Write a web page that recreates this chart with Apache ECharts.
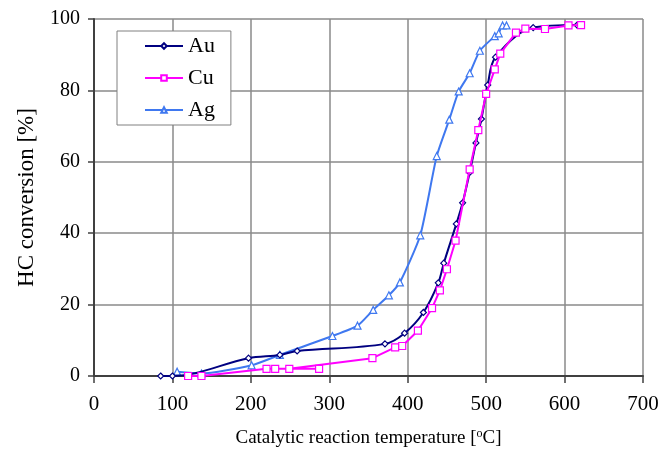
<!DOCTYPE html>
<html>
<head>
<meta charset="utf-8">
<script src="https://cdn.jsdelivr.net/npm/echarts@6/dist/echarts.min.js"></script>
<style>
  html, body { margin: 0; padding: 0; background: #fff; }
  #chart { width: 664px; height: 453px; }
</style>
</head>
<body>
<div id="chart"></div>
<script>
// Temperature [°C] / HC conversion [%] pairs for each catalyst
const auTemp = [85, 100, 197, 237, 259, 371, 396, 420, 439, 446, 462, 470, 479, 487, 494, 502, 512, 560, 616];
const auConv = [0, 0, 5.0, 5.9, 7.0, 9.0, 12.0, 17.8, 26.1, 31.6, 42.6, 48.5, 57.0, 65.3, 72.0, 81.5, 89.3, 97.6, 98.3];

const cuTemp = [120, 137, 220, 231, 287, 249, 355, 384, 393, 413, 431, 441, 450, 461, 479, 490, 500, 511, 518, 538, 550, 575, 605, 621];
const cuConv = [0, 0, 2.0, 2.0, 2.0, 2.0, 5.0, 8.0, 8.4, 12.7, 19.0, 24.0, 29.9, 37.9, 57.9, 68.9, 79.0, 85.9, 90.3, 96.2, 97.3, 97.2, 98.2, 98.3];

const agTemp = [106, 137, 201, 237, 304, 336, 356, 376, 390, 416, 437, 453, 465, 479, 492, 511, 516, 521, 526];
const agConv = [1.2, 0.7, 3.0, 5.9, 11.2, 14.1, 18.5, 22.6, 26.2, 39.4, 61.6, 71.8, 79.7, 84.8, 91.1, 95.2, 96.0, 98.2, 98.2];

const xTicks = { min: 0, max: 700, step: 100 };
const yTicks = { min: 0, max: 100, step: 20 };

const pairs = (xs, ys) => xs.map((x, i) => [x, ys[i]]);

const serif = '"Liberation Serif", "Times New Roman", serif';
const chart = echarts.init(document.getElementById('chart'), null, { renderer: 'canvas' });

chart.setOption({
  backgroundColor: '#ffffff',
  animation: false,
  textStyle: { fontFamily: serif, color: '#000' },
  grid: { left: 94, right: 21, top: 19, bottom: 77, containLabel: false, outerBoundsMode: 'none' },
  legend: {
    left: 117,
    top: 31,
    orient: 'vertical',
    backgroundColor: '#fff',
    borderColor: '#808080',
    borderWidth: 1,
    padding: [4, 16, 4, 27],
    itemWidth: 38,
    itemHeight: 7,
    itemGap: 10,
    textStyle: { fontFamily: serif, fontSize: 22, color: '#000', lineHeight: 22 },
    data: ['Au', 'Cu', 'Ag']
  },
  xAxis: {
    type: 'value',
    min: xTicks.min, max: xTicks.max, interval: xTicks.step,
    name: '{n|Catalytic reaction temperature [}{s|o}{n|C]}',
    nameLocation: 'middle',
    nameGap: 52,
    nameTextStyle: {
      rich: {
        n: { fontFamily: serif, fontSize: 19, color: '#000' },
        s: { fontFamily: serif, fontSize: 12, color: '#000', verticalAlign: 'top', padding: [0, 0, 8, 0] }
      }
    },
    axisLine: { onZero: false, lineStyle: { color: '#404040', width: 2 } },
    axisTick: { show: true, inside: false, length: 7, lineStyle: { color: '#404040', width: 1.5 } },
    axisLabel: { fontFamily: serif, fontSize: 21, color: '#000', margin: 18 },
    splitLine: { show: true, lineStyle: { color: '#8a8a8a', width: 1.5 } }
  },
  yAxis: {
    type: 'value',
    min: yTicks.min, max: yTicks.max, interval: yTicks.step,
    name: 'HC conversion [%]',
    nameLocation: 'middle',
    nameGap: 56,
    nameTextStyle: { fontFamily: serif, fontSize: 23, color: '#000' },
    axisLine: { show: true, onZero: false, lineStyle: { color: '#404040', width: 2 } },
    axisTick: { show: true, inside: false, length: 6, lineStyle: { color: '#404040', width: 1.5 } },
    axisLabel: { fontFamily: serif, fontSize: 20, color: '#000', margin: 14 },
    splitLine: { show: true, lineStyle: { color: '#8a8a8a', width: 1.5 } }
  },
  series: [
    {
      name: 'Au', type: 'line', data: pairs(auTemp, auConv),
      smooth: 0.35,
      symbol: 'diamond', symbolSize: 6,
      lineStyle: { color: '#000080', width: 2 },
      itemStyle: { color: '#ffffff', borderColor: '#000080', borderWidth: 1.2 },
      z: 3
    },
    {
      name: 'Cu', type: 'line', data: pairs(cuTemp, cuConv),
      smooth: false,
      symbol: 'rect', symbolSize: 7,
      lineStyle: { color: '#ff00ff', width: 2 },
      itemStyle: { color: '#ffffff', borderColor: '#ff00ff', borderWidth: 1.2 },
      z: 4
    },
    {
      name: 'Ag', type: 'line', data: pairs(agTemp, agConv),
      smooth: 0.2,
      symbol: 'triangle', symbolSize: 7,
      lineStyle: { color: '#3f78f0', width: 2 },
      itemStyle: { color: '#ffffff', borderColor: '#3f78f0', borderWidth: 1.2 },
      z: 2
    }
  ]
});
</script>
</body>
</html>
